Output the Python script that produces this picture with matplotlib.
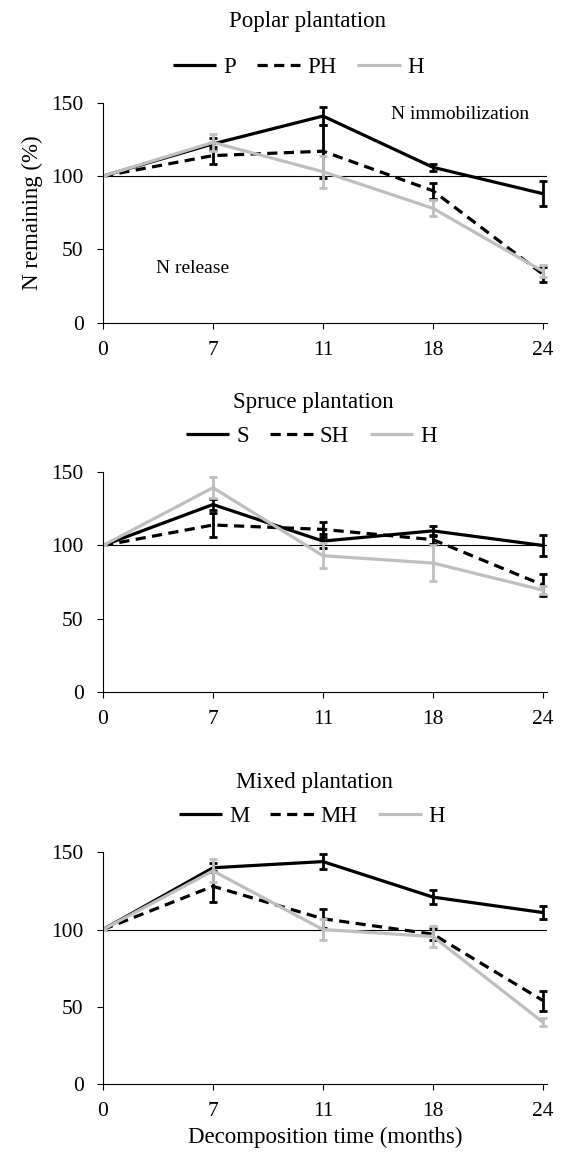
import matplotlib
matplotlib.use("Agg")
import matplotlib.pyplot as plt
import numpy as np

plt.rcParams["font.family"] = ["Liberation Serif", "DejaVu Serif"]

# Decomposition time categories (months)
MONTHS = ["0", "7", "11", "18", "24"]

# Poplar plantation
POPLAR_P = [100, 122, 141, 106, 88]
POPLAR_P_ERR = [0, 4, 6, 2.5, 8.5]
POPLAR_PH = [100, 114, 117, 90, 33]
POPLAR_PH_ERR = [0, 6, 18, 5.5, 5]
POPLAR_H = [100, 123, 103, 78, 35]
POPLAR_H_ERR = [0, 6, 11, 5.5, 4]

# Spruce plantation
SPRUCE_S = [100, 128, 103, 110, 100]
SPRUCE_S_ERR = [0, 4, 5, 3.5, 7.5]
SPRUCE_SH = [100, 114, 111, 104, 73]
SPRUCE_SH_ERR = [0, 8, 5, 3, 7.5]
SPRUCE_H = [100, 139.5, 93, 88, 69.5]
SPRUCE_H_ERR = [0, 7, 8.5, 12.5, 3]

# Mixed plantation
MIXED_M = [100, 140, 144, 121, 111]
MIXED_M_ERR = [0, 3, 5, 4.5, 4]
MIXED_MH = [100, 128, 107, 97, 54]
MIXED_MH_ERR = [0, 10, 6, 4, 6.5]
MIXED_H = [100, 138, 100, 95.5, 40]
MIXED_H_ERR = [0, 7.5, 7, 6.5, 2.5]

PANELS = [
    ("Poplar plantation", ["P", "PH", "H"],
     [(POPLAR_P, POPLAR_P_ERR), (POPLAR_PH, POPLAR_PH_ERR), (POPLAR_H, POPLAR_H_ERR)]),
    ("Spruce plantation", ["S", "SH", "H"],
     [(SPRUCE_S, SPRUCE_S_ERR), (SPRUCE_SH, SPRUCE_SH_ERR), (SPRUCE_H, SPRUCE_H_ERR)]),
    ("Mixed plantation", ["M", "MH", "H"],
     [(MIXED_M, MIXED_M_ERR), (MIXED_MH, MIXED_MH_ERR), (MIXED_H, MIXED_H_ERR)]),
]

BLACK = "#000000"
GRAY = "#BFBFBF"
STYLES = [
    dict(color=BLACK, linestyle="-"),
    dict(color=BLACK, linestyle=(0, (3.2, 2.0))),
    dict(color=GRAY, linestyle="-"),
]

# axes rect [left, bottom, width, height], (title x, y), (legend x, y)
LAYOUT = [
    ([0.1836, 0.721, 0.792, 0.190], (0.549, 0.981), (0.532, 0.942)),
    ([0.1836, 0.4016, 0.792, 0.1898], (0.558, 0.6514), (0.555, 0.6228)),
    ([0.1836, 0.0623, 0.792, 0.2004], (0.561, 0.3227), (0.556, 0.2933)),
]

fig = plt.figure(figsize=(5.61, 11.56), dpi=100)
x = np.arange(len(MONTHS))

for (title, names, series), (rect, tpos, lpos) in zip(PANELS, LAYOUT):
    ax = fig.add_axes(rect)
    handles = []
    for (vals, errs), style, name in zip(series, STYLES, names):
        ax.errorbar(x, vals, yerr=errs, color=style["color"], ecolor=style["color"],
                    elinewidth=2.0, capsize=3, capthick=2.0, lw=0)
        line, = ax.plot(x, vals, lw=2.3, solid_capstyle="butt",
                        dash_capstyle="butt", label=name, **style)
        handles.append(line)

    ax.axhline(100, color="black", lw=0.8, zorder=1)
    ax.set_xlim(0, 4.04)
    ax.set_ylim(0, 150)
    ax.set_yticks([0, 50, 100, 150])
    ax.set_xticks(x)
    ax.set_xticklabels(MONTHS)
    ax.spines["top"].set_visible(False)
    ax.spines["right"].set_visible(False)
    for s in ("left", "bottom"):
        ax.spines[s].set_linewidth(0.8)
    ax.tick_params(axis="both", direction="out", length=4, width=0.8,
                   labelsize=15.5)
    ax.tick_params(axis="x", pad=9)
    ax.tick_params(axis="y", pad=10)

    fig.text(tpos[0], tpos[1], title, ha="center", va="center", fontsize=16.5)
    fig.legend(handles=handles, loc="center", bbox_to_anchor=lpos,
               ncol=3, frameon=False, fontsize=16.5, handlelength=1.9,
               handletextpad=0.3, columnspacing=0.9)

    if title.startswith("Poplar"):
        ax.set_ylabel("N remaining (%)", fontsize=16.5, labelpad=6)
        ax.text(3.25, 142, "N immobilization", ha="center", va="center", fontsize=14)
        ax.text(0.81, 37, "N release", ha="center", va="center", fontsize=14)
    if title.startswith("Mixed"):
        ax.set_xlabel("Decomposition time (months)", fontsize=16.5, labelpad=4)

fig.savefig("out.png", dpi=100)
